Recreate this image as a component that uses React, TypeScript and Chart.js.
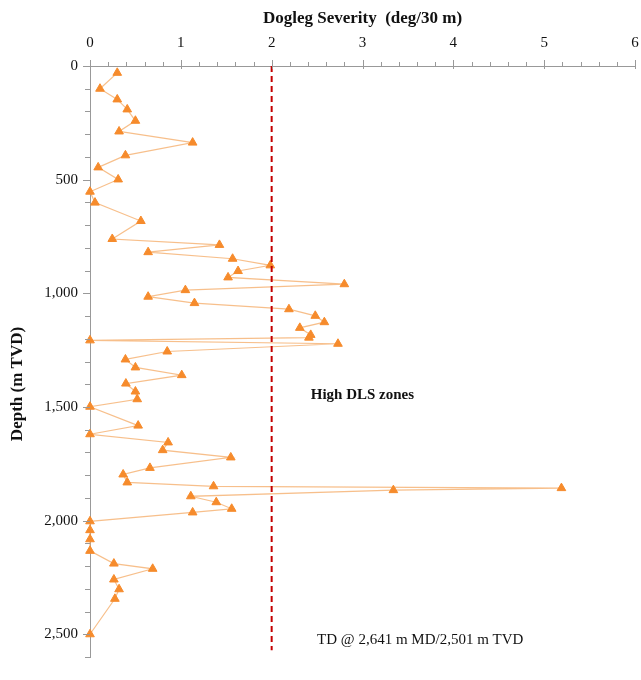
import React, { useEffect, useRef } from "react";
import { Chart, registerables } from "chart.js";

Chart.register(...registerables);

const depthTVD: number[] = [
  30, 100, 147, 191, 241, 288, 337, 393, 446, 499,
  553, 601, 682, 761, 787, 819, 848, 877, 902, 930,
  960, 986, 1015, 1043, 1070, 1099, 1127, 1152, 1183, 1195,
  1207, 1222, 1256, 1291, 1326, 1360, 1397, 1432, 1466, 1499,
  1582, 1620, 1656, 1690, 1722, 1768, 1797, 1832, 1849, 1857,
  1866, 1893, 1919, 1948, 1964, 2003, 2042, 2082, 2133, 2189,
  2212, 2259, 2302, 2344, 2500,
];

const dogleg: number[] = [
  0.3, 0.11, 0.3, 0.41, 0.5, 0.32, 1.13, 0.39, 0.09, 0.31,
  0, 0.055, 0.56, 0.245, 1.425, 0.64, 1.57, 1.985, 1.63, 1.52,
  2.8, 1.05, 0.64, 1.15, 2.19, 2.48, 2.58, 2.31, 2.43, 2.41,
  0, 2.73, 0.85, 0.39, 0.5, 1.01, 0.395, 0.5, 0.52, 0,
  0.53, 0, 0.86, 0.8, 1.55, 0.66, 0.365, 0.41, 1.36, 5.19,
  3.34, 1.11, 1.39, 1.56, 1.13, 0, 0, 0, 0, 0.263,
  0.69, 0.263, 0.32, 0.274, 0,
];

const limitDLS = 2;
const xMin = 0;
const xMax = 6;
const yMin = 0;
const yMax = 2600;
const xTitle = "Dogleg Severity  (deg/30 m)";
const yTitle = "Depth (m TVD)";
const zoneLabel = "High DLS zones";
const zoneLabelPos = { x: 2.43, y: 1448 };
const tdLabel = "TD @ 2,641 m MD/2,501 m TVD";
const tdLabelPos = { x: 2.5, y: 2526 };

const SERIF = "'Liberation Serif', 'Times New Roman', serif";

export default function App() {
  const canvasRef = useRef<HTMLCanvasElement | null>(null);

  useEffect(() => {
    const canvas = canvasRef.current;
    if (!canvas) return;

    const axisDecor = {
      id: "axisDecor",
      afterDraw(chart: any) {
        const ctx = chart.ctx as CanvasRenderingContext2D;
        const xs = chart.scales.x;
        const ys = chart.scales.y;
        const area = chart.chartArea;
        ctx.save();
        ctx.strokeStyle = "#999999";
        ctx.lineWidth = 1;
        for (let i = 0; i <= 30; i++) {
          const v = xMin + i * 0.2;
          const px = Math.round(xs.getPixelForValue(v)) + 0.5;
          const major = i % 5 === 0;
          ctx.beginPath();
          ctx.moveTo(px, area.top - (major ? 6 : 4));
          ctx.lineTo(px, area.top + (major ? 3 : 0));
          ctx.stroke();
        }
        for (let d = yMin; d <= yMax; d += 100) {
          const py = Math.round(ys.getPixelForValue(d)) + 0.5;
          const major = d % 500 === 0;
          ctx.beginPath();
          ctx.moveTo(area.left - (major ? 7 : 5), py);
          ctx.lineTo(area.left, py);
          ctx.stroke();
        }
        ctx.fillStyle = "#111111";
        ctx.font = `bold 17px ${SERIF}`;
        ctx.textAlign = "center";
        ctx.textBaseline = "middle";
        ctx.fillText(xTitle, (area.left + area.right) / 2, 19);
        ctx.save();
        ctx.translate(18, 384);
        ctx.rotate(-Math.PI / 2);
        ctx.fillText(yTitle, 0, 0);
        ctx.restore();
        ctx.textAlign = "left";
        ctx.font = `bold 15px ${SERIF}`;
        ctx.fillText(
          zoneLabel,
          xs.getPixelForValue(zoneLabelPos.x),
          ys.getPixelForValue(zoneLabelPos.y)
        );
        ctx.font = `15px ${SERIF}`;
        ctx.fillText(
          tdLabel,
          xs.getPixelForValue(tdLabelPos.x),
          ys.getPixelForValue(tdLabelPos.y)
        );
        ctx.restore();
      },
    };

    const points = depthTVD.map((d, i) => ({ x: dogleg[i], y: d }));

    const chart = new Chart(canvas, {
      type: "scatter",
      data: {
        datasets: [
          {
            label: "limit",
            data: [
              { x: limitDLS, y: yMin },
              { x: limitDLS, y: 2570 },
            ],
            showLine: true,
            borderColor: "#c40000",
            borderWidth: 2,
            borderDash: [6, 4],
            pointRadius: 0,
            order: 0,
          },
          {
            label: "DLS",
            data: points,
            showLine: true,
            clip: false,
            borderColor: "rgba(244,170,100,0.75)",
            borderWidth: 1.2,
            pointStyle: "triangle",
            pointRadius: 5,
            pointBackgroundColor: "#f68b2c",
            pointBorderColor: "#f68b2c",
            pointBorderWidth: 1,
            order: 1,
          },
        ],
      },
      options: {
        animation: false,
        responsive: true,
        maintainAspectRatio: false,
        layout: { padding: { top: 0, left: 0, right: 2, bottom: 23 } },
        plugins: {
          legend: { display: false },
          tooltip: { enabled: false },
        },
        scales: {
          x: {
            type: "linear",
            position: "top",
            min: xMin,
            max: xMax,
            grid: { display: false, drawTicks: false },
            border: { display: true, color: "#999999", width: 1 },
            ticks: {
              stepSize: 0.2,
              autoSkip: false,
              maxRotation: 0,
              padding: 14,
              color: "#111111",
              font: { family: SERIF, size: 15 },
              callback: (v: any) => {
                const n = Number(v);
                return Math.abs(n - Math.round(n)) < 1e-6 ? String(Math.round(n)) : "";
              },
            },
            afterFit: (s: any) => {
              s.height = 66;
              s.paddingLeft = 0;
              s.paddingRight = 0;
            },
          },
          y: {
            type: "linear",
            reverse: true,
            min: yMin,
            max: yMax,
            grid: { display: false, drawTicks: false },
            border: { display: true, color: "#999999", width: 1 },
            ticks: {
              stepSize: 100,
              autoSkip: false,
              padding: 12,
              color: "#111111",
              font: { family: SERIF, size: 15 },
              callback: (v: any) => {
                const n = Math.round(Number(v));
                return n % 500 === 0 ? n.toLocaleString("en-US") : "";
              },
            },
            afterFit: (s: any) => {
              s.width = 90;
              s.paddingTop = 0;
              s.paddingBottom = 0;
            },
          },
        },
      },
      plugins: [axisDecor],
    });

    return () => chart.destroy();
  }, []);

  return (
    <div
      style={{
        position: "fixed",
        left: 0,
        top: 0,
        width: 641,
        height: 680,
        background: "#ffffff",
      }}
    >
      <canvas ref={canvasRef} />
    </div>
  );
}
